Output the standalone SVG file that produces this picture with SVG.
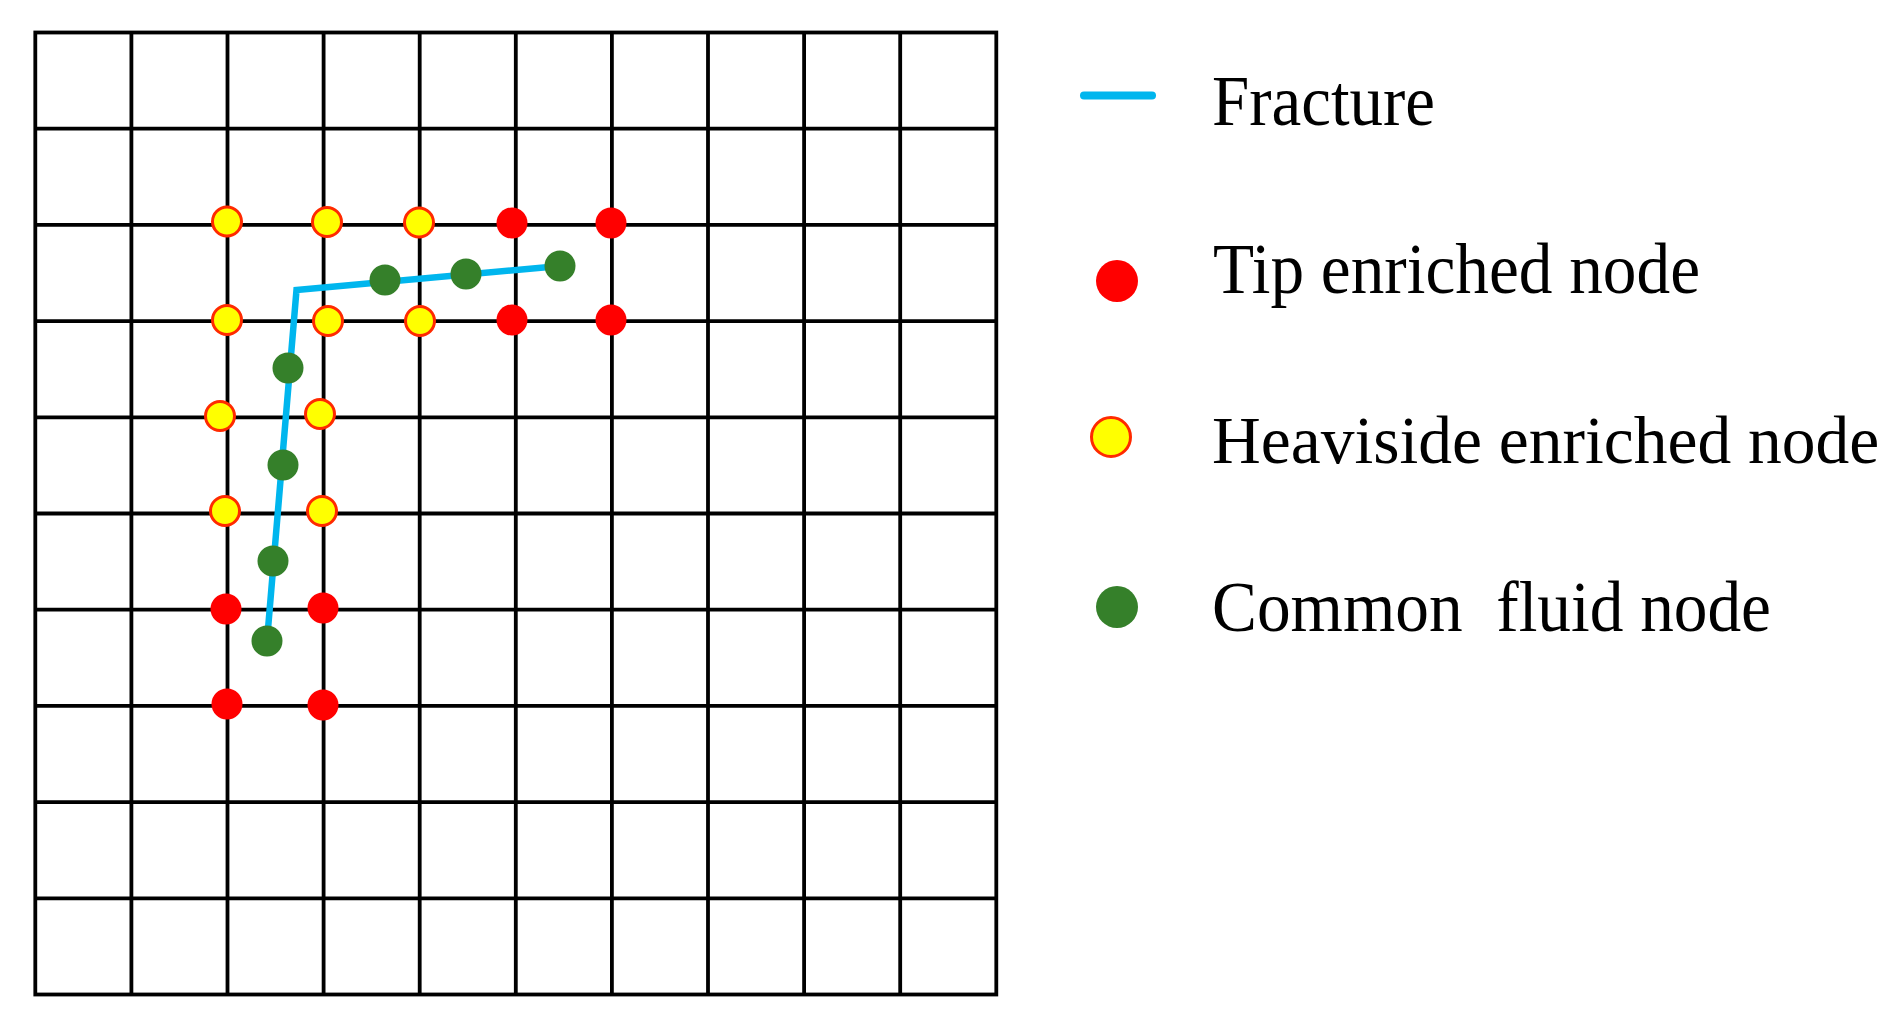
<svg xmlns="http://www.w3.org/2000/svg" width="1892" height="1020" viewBox="0 0 1892 1020">
<style>
.grid{stroke:#000;stroke-width:3.8;fill:none}
.frac{stroke:#00B6EE;stroke-width:6.5;fill:none;stroke-linejoin:miter}
.tip{fill:#FF0000}
.hev{fill:#FFFF00;stroke:#FF2A00;stroke-width:3}
.com{fill:#35802A}
.lbl{font-family:"Liberation Serif","Times New Roman",serif;font-size:71px;fill:#000}
</style>
<rect width="1892" height="1020" fill="#fff"/>
<g id="grid" class="grid">
<rect x="35.3" y="32.5" width="961" height="962"/>
<path d="M131.4 32.5V994.5M227.5 32.5V994.5M323.6 32.5V994.5M419.7 32.5V994.5M515.8 32.5V994.5M611.9 32.5V994.5M708 32.5V994.5M804.1 32.5V994.5M900.2 32.5V994.5"/>
<path d="M35.3 128.7H996.3M35.3 224.9H996.3M35.3 321.1H996.3M35.3 417.3H996.3M35.3 513.5H996.3M35.3 609.7H996.3M35.3 705.9H996.3M35.3 802.1H996.3M35.3 898.3H996.3"/>
</g>
<g id="connectors">
<polyline id="fracture" class="frac" points="267,641 296.5,290 560,266"/>
</g>
<g id="tip-nodes" class="tip">
<circle cx="512" cy="223" r="15.5"/>
<circle cx="611" cy="223" r="15.5"/>
<circle cx="512" cy="320" r="15.5"/>
<circle cx="611" cy="320" r="15.5"/>
<circle cx="226" cy="609" r="15.5"/>
<circle cx="323" cy="608" r="15.5"/>
<circle cx="227" cy="704" r="15.5"/>
<circle cx="323" cy="705" r="15.5"/>
</g>
<g id="heaviside-nodes" class="hev">
<circle cx="227" cy="221.5" r="14.5"/>
<circle cx="327" cy="222" r="14.5"/>
<circle cx="419" cy="222.5" r="14.5"/>
<circle cx="227" cy="320" r="14.5"/>
<circle cx="328" cy="321" r="14.5"/>
<circle cx="420" cy="321" r="14.5"/>
<circle cx="220" cy="416" r="14.5"/>
<circle cx="320" cy="414" r="14.5"/>
<circle cx="225" cy="511" r="14.5"/>
<circle cx="322" cy="511" r="14.5"/>
</g>
<g id="common-nodes" class="com">
<circle cx="385" cy="280" r="15.5"/>
<circle cx="466" cy="274" r="15.5"/>
<circle cx="560" cy="266" r="15.5"/>
<circle cx="288" cy="368" r="15.5"/>
<circle cx="283" cy="465" r="15.5"/>
<circle cx="273" cy="561" r="15.5"/>
<circle cx="267" cy="641" r="15.5"/>
</g>
<g id="legend">
<g id="legend-fracture">
<line x1="1084" y1="95.5" x2="1152" y2="95.5" stroke="#00B6EE" stroke-width="8" stroke-linecap="round"/>
<text class="lbl" x="1212" y="125" textLength="223" lengthAdjust="spacingAndGlyphs">Fracture</text>
</g>
<g id="legend-tip">
<circle class="tip" cx="1117" cy="281" r="21"/>
<text class="lbl" x="1213" y="293" textLength="487" lengthAdjust="spacingAndGlyphs">Tip enriched node</text>
</g>
<g id="legend-heaviside">
<circle class="hev" cx="1111" cy="437" r="19.5"/>
<text class="lbl" x="1212" y="462.5" style="font-size:67.5px">Heaviside enriched node</text>
</g>
<g id="legend-common">
<circle class="com" cx="1117" cy="607" r="21"/>
<text class="lbl" x="1212" y="630.5" textLength="559" lengthAdjust="spacingAndGlyphs" xml:space="preserve">Common  fluid node</text>
</g>
</g>
</svg>
